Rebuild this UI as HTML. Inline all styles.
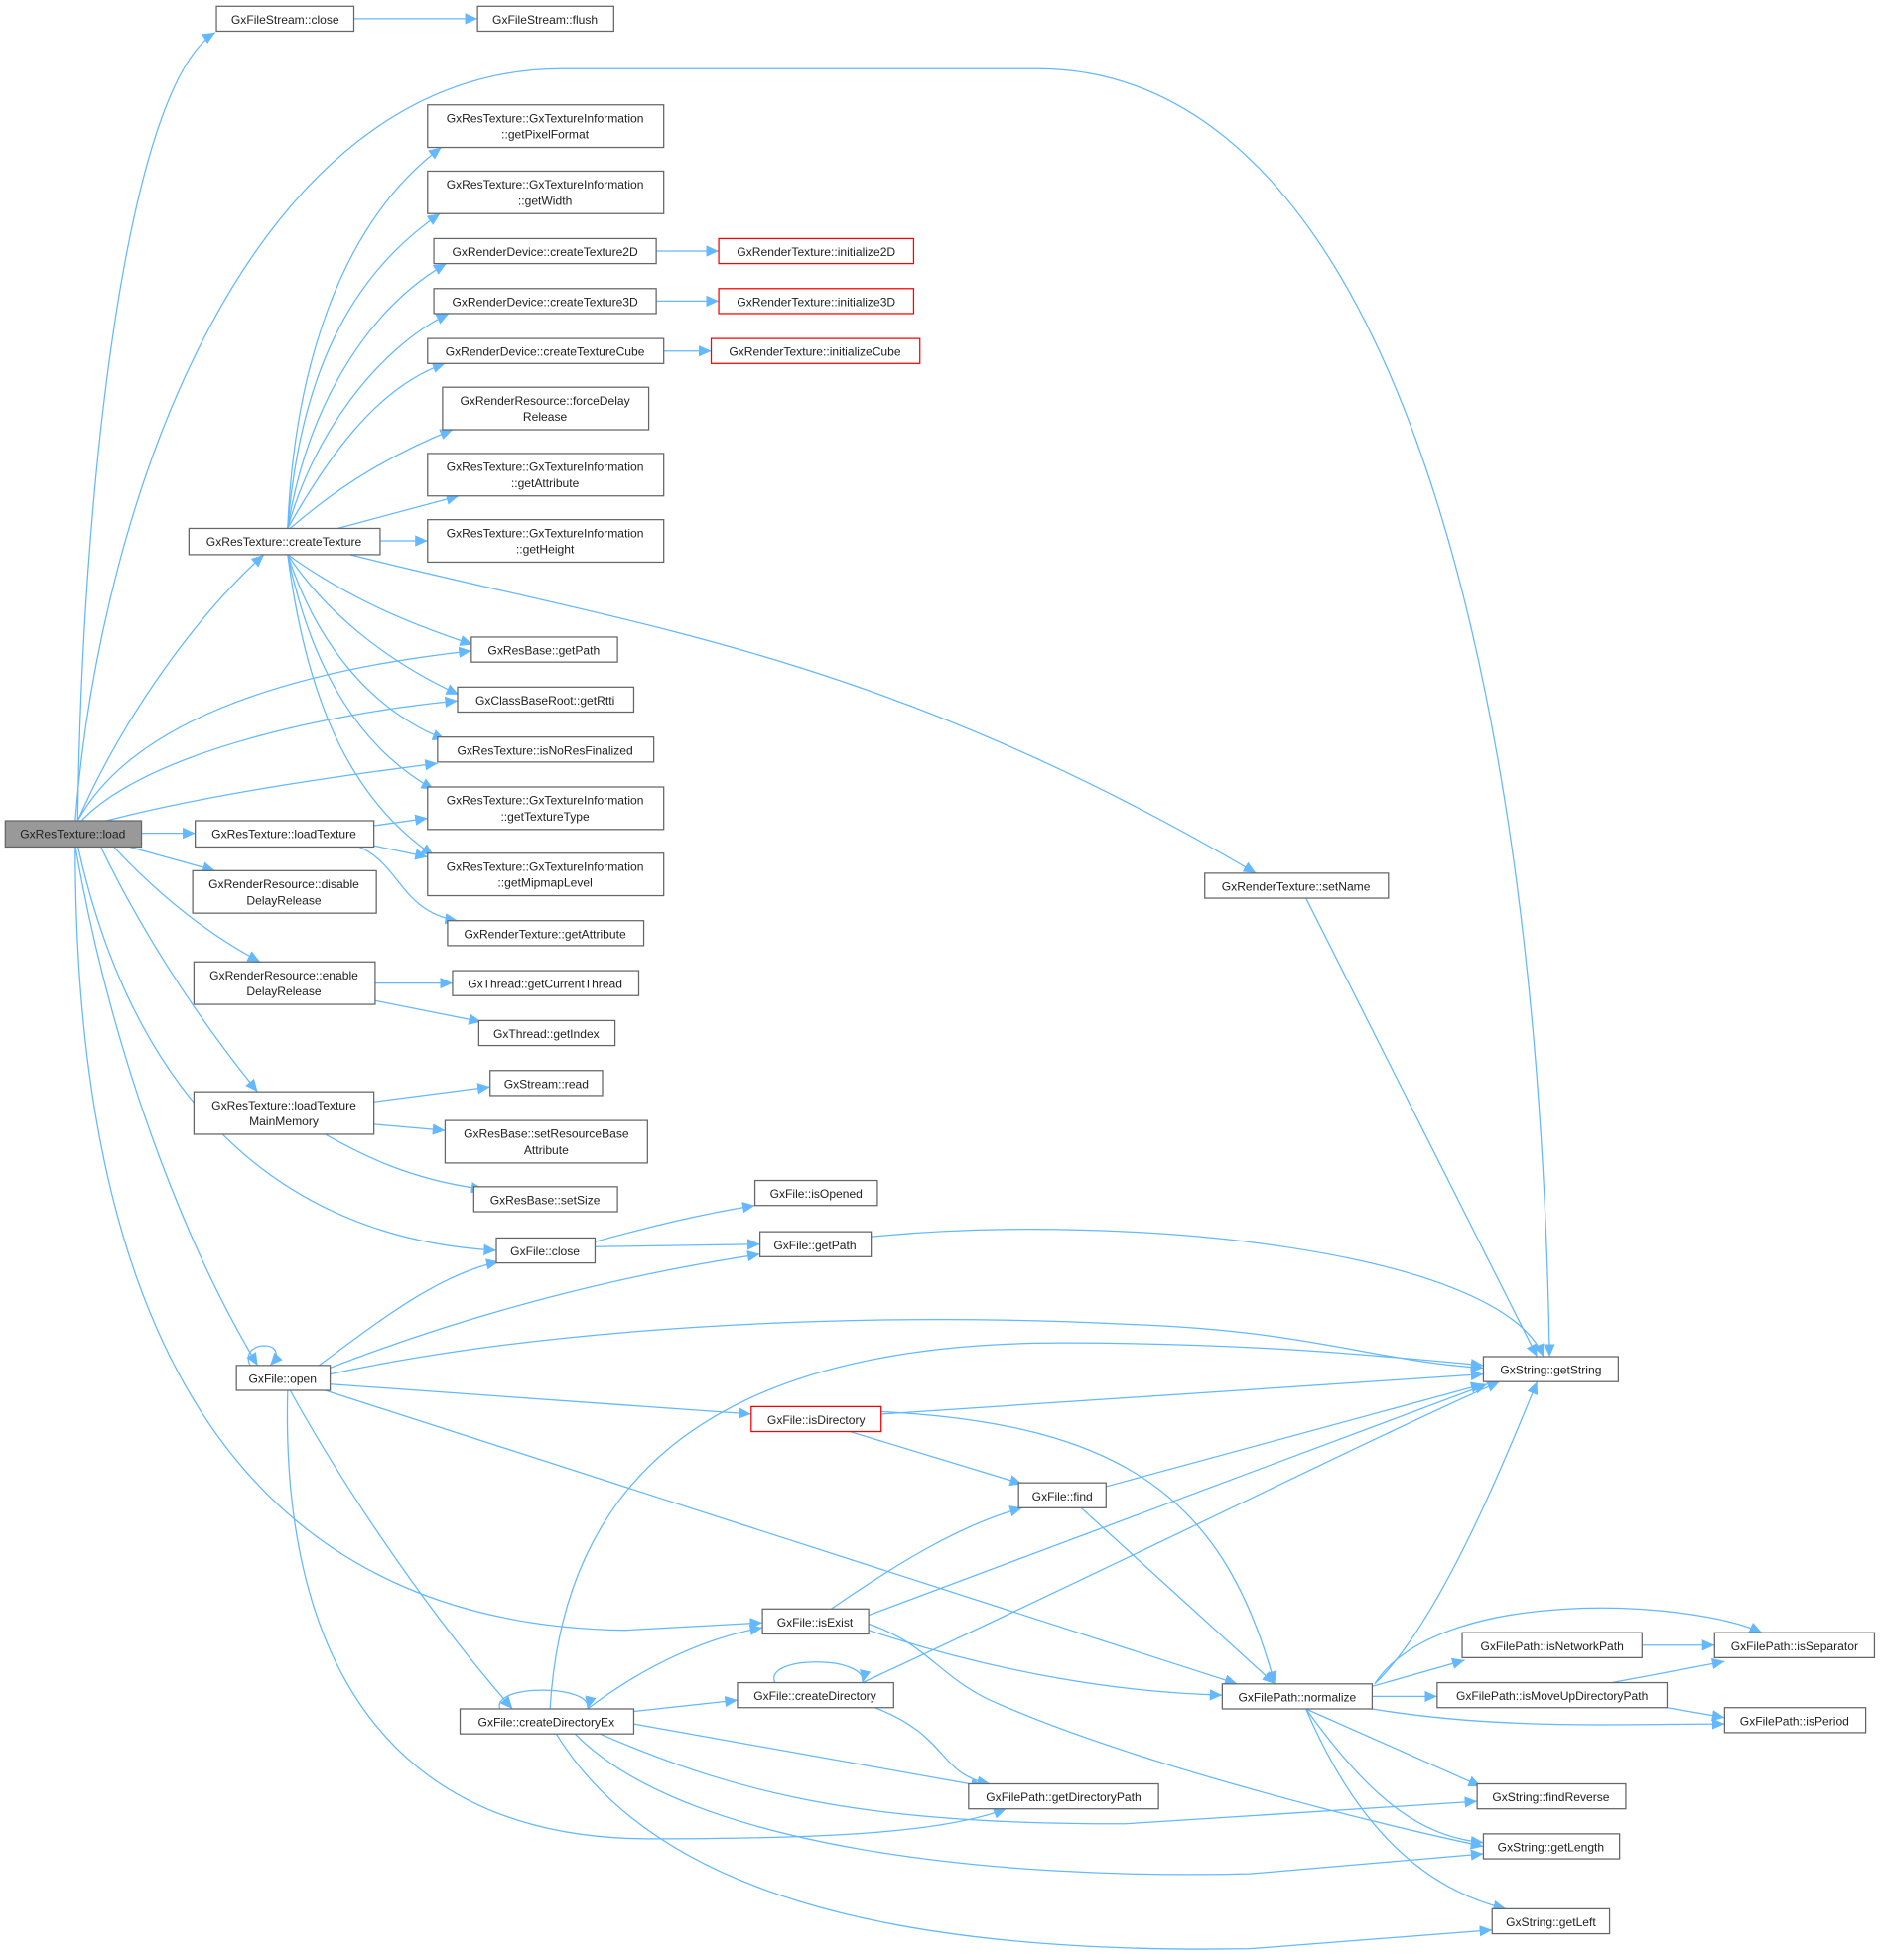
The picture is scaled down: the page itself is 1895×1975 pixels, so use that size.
<!DOCTYPE html>
<html><head><meta charset="utf-8"><style>
html,body{margin:0;padding:0;background:#fff;}
svg{display:block;}
text{font-family:"Liberation Sans",Arial,sans-serif;font-size:9.6px;fill:#222;text-anchor:middle;}
.n{fill:#fff;stroke:#666;stroke-width:1;}
.r{fill:#fff;stroke:#f00;stroke-width:1;}
.g{fill:#999;stroke:#666;stroke-width:1;}
.e{fill:none;stroke:#63b8ff;stroke-width:1;marker-end:url(#a);}
</style></head><body>
<svg width="1895" height="1975" viewBox="0 0 1505 1569" xmlns="http://www.w3.org/2000/svg">
<defs><marker id="a" markerUnits="userSpaceOnUse" markerWidth="11" markerHeight="9" refX="10" refY="4.5" orient="auto"><path d="M0,0 L10,4.5 L0,9 z" fill="#63b8ff"/></marker></defs>
<g>
<path class="e" d="M62,657 C65,400 100,70 172,26"/>
<path class="e" d="M60,657 C80,400 200,55 450,55 L830,55 C1100,55 1230,500 1240,1086"/>
<path class="e" d="M283,15 L382,15"/>
<path class="e" d="M525,201 L575,201"/>
<path class="e" d="M525,241 L575,241"/>
<path class="e" d="M531,281 L569,281"/>
<path class="e" d="M230,423 C235,300 270,180 353,118"/>
<path class="e" d="M230,423 C240,300 280,220 352,171"/>
<path class="e" d="M230,423 C245,330 290,250 357,211"/>
<path class="e" d="M230,423 C250,350 300,280 359,251"/>
<path class="e" d="M230,423 C260,370 300,310 356,291"/>
<path class="e" d="M232,423 C270,390 310,365 362,344"/>
<path class="e" d="M270,423 L367,397"/>
<path class="e" d="M304,433 L342,433"/>
<path class="e" d="M280,444 C500,500 700,520 1005,699"/>
<path class="e" d="M230,444 C280,480 330,500 378,516"/>
<path class="e" d="M230,444 C260,490 310,530 367,556"/>
<path class="e" d="M230,444 C255,520 300,570 356,592"/>
<path class="e" d="M230,444 C250,540 290,600 347,632"/>
<path class="e" d="M230,444 C245,560 280,640 347,685"/>
<path class="e" d="M62,657 C100,570 160,490 211,444"/>
<path class="e" d="M62,657 C110,570 250,535 377,521"/>
<path class="e" d="M65,657 C120,600 270,570 366,561"/>
<path class="e" d="M85,657 C170,635 280,620 350,611"/>
<path class="e" d="M113,667 L156,667"/>
<path class="e" d="M100,677 L172,697"/>
<path class="e" d="M90,677 C130,720 170,750 208,770"/>
<path class="e" d="M80,677 C120,760 170,830 206,874"/>
<path class="e" d="M62,677 C100,850 200,990 397,1001"/>
<path class="e" d="M60,677 C90,850 150,1000 206,1093"/>
<path class="e" d="M60,677 C60,1000 150,1300 500,1305 L610,1299"/>
<path class="e" d="M299,661 L342,655"/>
<path class="e" d="M299,677 L342,686"/>
<path class="e" d="M285,677 C320,690 320,730 366,737"/>
<path class="e" d="M300,787 L362,787"/>
<path class="e" d="M300,801 L385,818"/>
<path class="e" d="M299,882 L392,870"/>
<path class="e" d="M299,900 L356,905"/>
<path class="e" d="M260,908 C290,925 330,945 387,952"/>
<path class="e" d="M476,994 C520,982 560,972 604,965"/>
<path class="e" d="M476,998 L608,996"/>
<path class="e" d="M697,990 C900,970 1200,1000 1235,1086"/>
<path class="e" d="M1045,719 L1230,1086"/>
<path class="e" d="M200,1093 C190,1072 235,1072 216,1093"/>
<path class="e" d="M255,1093 C300,1060 350,1020 399,1010"/>
<path class="e" d="M264,1095 C380,1050 500,1020 608,1004"/>
<path class="e" d="M264,1100 C450,1060 700,1050 900,1060 C1050,1065 1100,1090 1187,1095"/>
<path class="e" d="M264,1108 L601,1132"/>
<path class="e" d="M260,1113 L990,1348"/>
<path class="e" d="M232,1113 C280,1200 350,1300 410,1368"/>
<path class="e" d="M230,1113 C225,1300 290,1472 520,1472 C680,1472 760,1465 805,1448"/>
<path class="e" d="M705,1132 L1187,1100"/>
<path class="e" d="M680,1146 L818,1188"/>
<path class="e" d="M705,1130 C900,1140 980,1200 1020,1348"/>
<path class="e" d="M885,1190 L1187,1108"/>
<path class="e" d="M865,1207 L1020,1348"/>
<path class="e" d="M665,1288 C720,1250 770,1220 818,1207"/>
<path class="e" d="M695,1293 L1190,1108"/>
<path class="e" d="M695,1305 C800,1340 900,1355 978,1357"/>
<path class="e" d="M695,1300 C740,1315 750,1340 790,1360 C900,1410 1100,1460 1187,1478"/>
<path class="e" d="M440,1368 C450,1200 550,1075 850,1075 C1000,1075 1100,1085 1187,1093"/>
<path class="e" d="M400,1368 C392,1348 475,1348 470,1368"/>
<path class="e" d="M470,1368 C520,1330 570,1310 610,1303"/>
<path class="e" d="M507,1370 L590,1361"/>
<path class="e" d="M507,1380 L787,1430"/>
<path class="e" d="M480,1388 C600,1440 700,1460 900,1460 L1182,1442"/>
<path class="e" d="M460,1388 C550,1480 800,1505 1000,1500 L1187,1484"/>
<path class="e" d="M445,1388 C520,1510 700,1565 1000,1560 L1194,1545"/>
<path class="e" d="M620,1347 C610,1325 695,1325 690,1347"/>
<path class="e" d="M690,1347 C900,1250 1100,1150 1200,1106"/>
<path class="e" d="M700,1367 C760,1390 750,1420 792,1428"/>
<path class="e" d="M1100,1348 C1150,1300 1200,1180 1230,1106"/>
<path class="e" d="M1100,1348 C1150,1270 1350,1280 1410,1307"/>
<path class="e" d="M1098,1350 L1172,1329"/>
<path class="e" d="M1098,1358 L1150,1358"/>
<path class="e" d="M1098,1368 C1200,1385 1300,1380 1380,1380"/>
<path class="e" d="M1045,1368 L1185,1430"/>
<path class="e" d="M1045,1368 C1090,1430 1130,1470 1187,1475"/>
<path class="e" d="M1045,1368 C1080,1450 1130,1510 1205,1528"/>
<path class="e" d="M1314,1317 L1372,1317"/>
<path class="e" d="M1290,1347 L1380,1330"/>
<path class="e" d="M1334,1367 L1380,1375"/>
</g>
<g>
<rect class="n" x="173" y="5" width="110" height="20"/><text x="228" y="19">GxFileStream::close</text>
<rect class="n" x="382" y="5" width="109" height="20"/><text x="436" y="19">GxFileStream::flush</text>
<rect class="n" x="342" y="84" width="189" height="34"/><text x="436" y="98">GxResTexture::GxTextureInformation</text><text x="436" y="111">::getPixelFormat</text>
<rect class="n" x="342" y="137" width="189" height="34"/><text x="436" y="151">GxResTexture::GxTextureInformation</text><text x="436" y="164">::getWidth</text>
<rect class="n" x="347" y="191" width="178" height="20"/><text x="436" y="205">GxRenderDevice::createTexture2D</text>
<rect class="r" x="575" y="191" width="156" height="20"/><text x="653" y="205">GxRenderTexture::initialize2D</text>
<rect class="n" x="347" y="231" width="178" height="20"/><text x="436" y="245">GxRenderDevice::createTexture3D</text>
<rect class="r" x="575" y="231" width="156" height="20"/><text x="653" y="245">GxRenderTexture::initialize3D</text>
<rect class="n" x="342" y="271" width="189" height="20"/><text x="436" y="285">GxRenderDevice::createTextureCube</text>
<rect class="r" x="569" y="271" width="167" height="20"/><text x="652" y="285">GxRenderTexture::initializeCube</text>
<rect class="n" x="354" y="310" width="165" height="34"/><text x="436" y="324">GxRenderResource::forceDelay</text><text x="436" y="337">Release</text>
<rect class="n" x="342" y="363" width="189" height="34"/><text x="436" y="377">GxResTexture::GxTextureInformation</text><text x="436" y="390">::getAttribute</text>
<rect class="n" x="342" y="416" width="189" height="34"/><text x="436" y="430">GxResTexture::GxTextureInformation</text><text x="436" y="443">::getHeight</text>
<rect class="n" x="151" y="423" width="153" height="21"/><text x="227" y="437">GxResTexture::createTexture</text>
<rect class="n" x="377" y="510" width="117" height="20"/><text x="435" y="524">GxResBase::getPath</text>
<rect class="n" x="366" y="550" width="141" height="20"/><text x="436" y="564">GxClassBaseRoot::getRtti</text>
<rect class="n" x="350" y="590" width="173" height="20"/><text x="436" y="604">GxResTexture::isNoResFinalized</text>
<rect class="n" x="342" y="630" width="189" height="34"/><text x="436" y="644">GxResTexture::GxTextureInformation</text><text x="436" y="657">::getTextureType</text>
<rect class="n" x="342" y="683" width="189" height="34"/><text x="436" y="697">GxResTexture::GxTextureInformation</text><text x="436" y="710">::getMipmapLevel</text>
<rect class="g" x="4" y="657" width="109" height="21"/><text x="58" y="671">GxResTexture::load</text>
<rect class="n" x="156" y="657" width="143" height="21"/><text x="227" y="671">GxResTexture::loadTexture</text>
<rect class="n" x="154" y="697" width="147" height="34"/><text x="227" y="711">GxRenderResource::disable</text><text x="227" y="724">DelayRelease</text>
<rect class="n" x="358" y="737" width="157" height="20"/><text x="436" y="751">GxRenderTexture::getAttribute</text>
<rect class="n" x="155" y="770" width="145" height="34"/><text x="227" y="784">GxRenderResource::enable</text><text x="227" y="797">DelayRelease</text>
<rect class="n" x="362" y="777" width="149" height="20"/><text x="436" y="791">GxThread::getCurrentThread</text>
<rect class="n" x="383" y="817" width="109" height="20"/><text x="437" y="831">GxThread::getIndex</text>
<rect class="n" x="155" y="874" width="144" height="34"/><text x="227" y="888">GxResTexture::loadTexture</text><text x="227" y="901">MainMemory</text>
<rect class="n" x="392" y="857" width="90" height="20"/><text x="437" y="871">GxStream::read</text>
<rect class="n" x="356" y="897" width="162" height="34"/><text x="437" y="911">GxResBase::setResourceBase</text><text x="437" y="924">Attribute</text>
<rect class="n" x="379" y="950" width="115" height="20"/><text x="436" y="964">GxResBase::setSize</text>
<rect class="n" x="604" y="945" width="98" height="20"/><text x="653" y="959">GxFile::isOpened</text>
<rect class="n" x="397" y="991" width="79" height="20"/><text x="436" y="1005">GxFile::close</text>
<rect class="n" x="608" y="986" width="89" height="20"/><text x="652" y="1000">GxFile::getPath</text>
<rect class="n" x="964" y="699" width="147" height="20"/><text x="1037" y="713">GxRenderTexture::setName</text>
<rect class="n" x="189" y="1093" width="75" height="20"/><text x="226" y="1107">GxFile::open</text>
<rect class="n" x="1187" y="1086" width="108" height="20"/><text x="1241" y="1100">GxString::getString</text>
<rect class="r" x="601" y="1126" width="104" height="20"/><text x="653" y="1140">GxFile::isDirectory</text>
<rect class="n" x="815" y="1187" width="70" height="20"/><text x="850" y="1201">GxFile::find</text>
<rect class="n" x="610" y="1288" width="85" height="20"/><text x="652" y="1302">GxFile::isExist</text>
<rect class="n" x="1170" y="1307" width="144" height="20"/><text x="1242" y="1321">GxFilePath::isNetworkPath</text>
<rect class="n" x="1372" y="1307" width="128" height="20"/><text x="1436" y="1321">GxFilePath::isSeparator</text>
<rect class="n" x="590" y="1347" width="125" height="20"/><text x="652" y="1361">GxFile::createDirectory</text>
<rect class="n" x="978" y="1348" width="120" height="20"/><text x="1038" y="1362">GxFilePath::normalize</text>
<rect class="n" x="1150" y="1347" width="184" height="20"/><text x="1242" y="1361">GxFilePath::isMoveUpDirectoryPath</text>
<rect class="n" x="1380" y="1367" width="113" height="20"/><text x="1436" y="1381">GxFilePath::isPeriod</text>
<rect class="n" x="368" y="1368" width="139" height="20"/><text x="437" y="1382">GxFile::createDirectoryEx</text>
<rect class="n" x="775" y="1428" width="152" height="20"/><text x="851" y="1442">GxFilePath::getDirectoryPath</text>
<rect class="n" x="1182" y="1428" width="119" height="20"/><text x="1241" y="1442">GxString::findReverse</text>
<rect class="n" x="1187" y="1468" width="109" height="20"/><text x="1241" y="1482">GxString::getLength</text>
<rect class="n" x="1194" y="1528" width="94" height="20"/><text x="1241" y="1542">GxString::getLeft</text>
</g>
</svg>
</body></html>
